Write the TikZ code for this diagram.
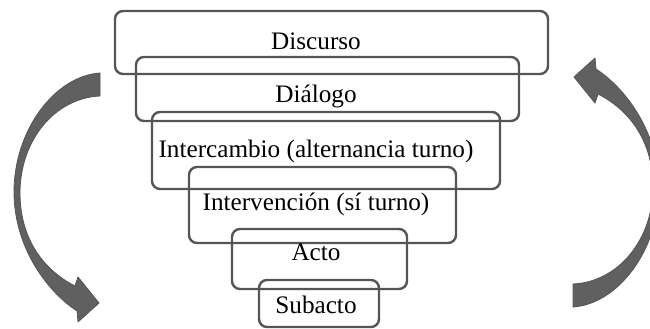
\documentclass[tikz,border=0pt]{standalone}
\usepackage{fontspec}
\setmainfont{Liberation Serif}
\usetikzlibrary{fit}
\definecolor{boxline}{RGB}{85,85,85}
\definecolor{arrowfill}{RGB}{96,96,96}
\definecolor{arrowedge}{RGB}{85,85,85}
\tikzset{
  levelbox/.style={draw=boxline, line width=2.4pt, rounded corners=8pt, inner sep=0pt, fill=none},
  leveltext/.style={anchor=base, inner sep=0pt, font=\fontsize{25.2}{30}\selectfont, text=black},
  bigarrow/.style={fill=arrowfill, draw=arrowedge, line width=0.8pt, line join=round}
}
\begin{document}
\begin{tikzpicture}[x=1pt,y=-1pt]
\useasboundingbox (0,0) rectangle (650,329);
\clip (0,0) rectangle (650,329);
% boxes
\node[levelbox, fit={(115,11)(548,74)}] (b1) {};
\node[levelbox, fit={(136,57)(519,121)}] (b2) {};
\node[levelbox, fit={(152,112)(500,189)}] (b3) {};
\node[levelbox, fit={(189,167)(456,243)}] (b4) {};
\node[levelbox, fit={(232,229)(407,289)}] (b5) {};
\node[levelbox, fit={(259,280)(379,327)}] (b6) {};
% labels
\node[leveltext] (t1) at (316,50) {Discurso};
\node[leveltext] (t2) at (316,102) {Diálogo};
\node[leveltext] (t3) at (316,157) {Intercambio (alternancia turno)};
\node[leveltext] (t4) at (316,210) {Intervención (sí turno)};
\node[leveltext] (t5) at (316,260) {Acto};
\node[leveltext] (t6) at (316,313) {Subacto};
% left curved arrow
\path[bigarrow] (100,73) .. controls (55,76) and (14,130) .. (14,192)
  .. controls (14,245) and (45,290) .. (77,311)
  -- (78,322) -- (99,303) -- (78,277) -- (75,286)
  .. controls (40,268) and (20,235) .. (20,193)
  .. controls (20,140) and (55,98) .. (100,96) -- cycle;
% right curved arrow (same shape turned half round)
\begin{scope}[rotate around={180:(336.5,190)}]
\path[bigarrow] (100,73) .. controls (55,76) and (14,130) .. (14,192)
  .. controls (14,245) and (45,290) .. (77,311)
  -- (78,322) -- (99,303) -- (78,277) -- (75,286)
  .. controls (40,268) and (20,235) .. (20,193)
  .. controls (20,140) and (55,98) .. (100,96) -- cycle;
\end{scope}
\end{tikzpicture}
\end{document}
